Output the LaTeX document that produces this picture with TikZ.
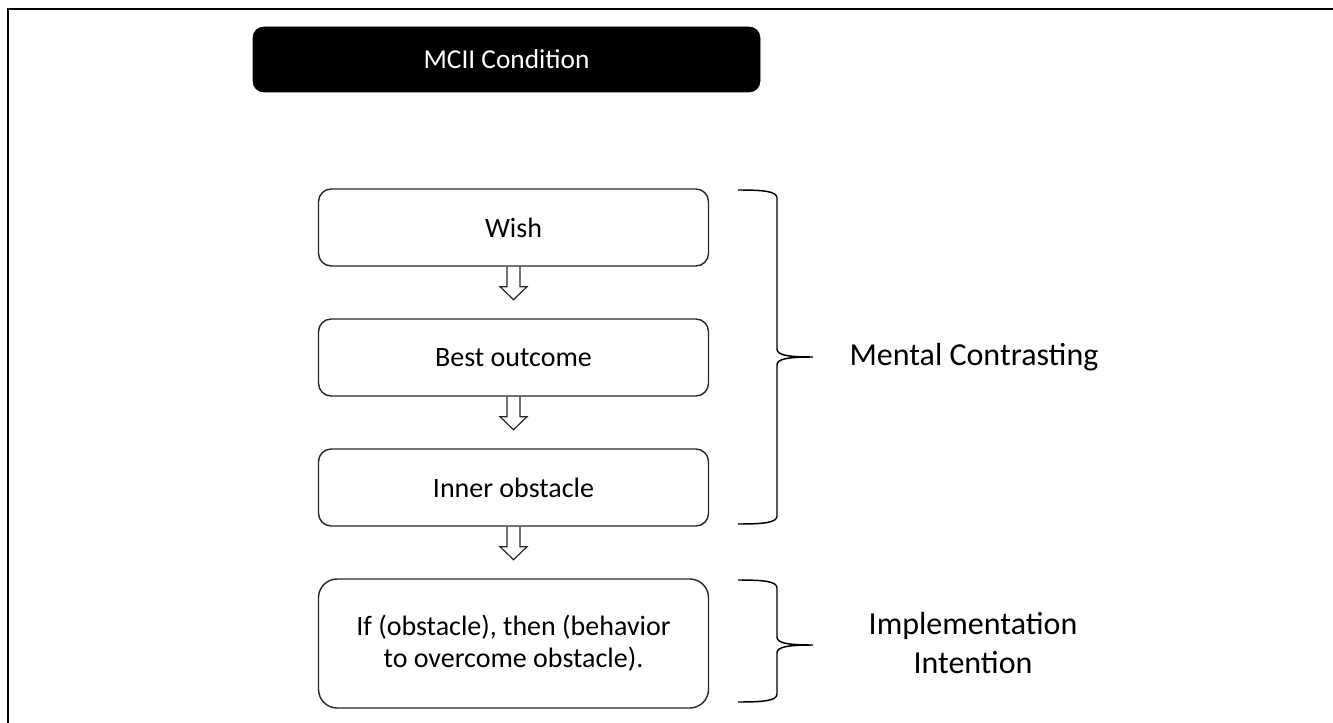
\documentclass[tikz,border=0pt]{standalone}
\usepackage{fontspec}
\setmainfont{Carlito}
\usetikzlibrary{calc}
\newcommand{\blockdown}[1]{%
  \draw[blockarrow] ([shift={(-6.5,0)}]#1.south) -- ([shift={(-6.5,20)}]#1.south) -- ([shift={(-13.5,20)}]#1.south) -- ([shift={(0,33)}]#1.south) -- ([shift={(13.5,20)}]#1.south) -- ([shift={(6.5,20)}]#1.south) -- ([shift={(6.5,0)}]#1.south);}
\newcommand{\rightbracket}[3]{%
  \draw[bracestyle] (738,#1) .. controls (762,#1) and (777,#1+1) .. (777,#1+8) -- (777,#2-8) .. controls (777,#2-2) and (787,#2) .. (813,#2) .. controls (787,#2) and (777,#2+2) .. (777,#2+8) -- (777,#3-8) .. controls (777,#3-1) and (762,#3) .. (738,#3);}
\begin{document}
\begin{tikzpicture}[x=0.75pt,y=-0.75pt,
  box/.style={draw=black!85, line width=1.05pt, rounded corners=9.5pt, minimum width=292.5pt, minimum height=57.75pt, inner sep=0pt, align=center, font=\fontsize{21}{24}\selectfont},
  header/.style={fill=black, draw=black, rounded corners=8pt, minimum width=380.25pt, minimum height=48.75pt, inner sep=0pt, text=white, font=\fontsize{20.5}{24}\selectfont},
  sidelabel/.style={align=center, inner sep=0pt, font=\fontsize{24}{29}\selectfont},
  blockarrow/.style={draw=black!85, line width=0.9pt, line join=miter},
  bracestyle/.style={draw=black, line width=1.1pt},
  frameline/.style={draw=black, line width=1.3pt}]
\useasboundingbox (0,0) rectangle (1333,723);
\draw[frameline] (8,723) -- (8,9) -- (1333,9);
\node[header] (hdr) at (506.5,59.5) {MCII Condition};
\node[box] (wish) at (513.5,227.5) {Wish};
\node[box] (best) at (513.5,357.5) {Best outcome};
\node[box] (inner) at (513.5,487.5) {Inner obstacle};
\node[box, minimum height=96.75pt, rounded corners=14pt] (ifthen) at (513.5,643.5) {If (obstacle), then (behavior\\to overcome obstacle).};
\blockdown{wish}
\blockdown{best}
\blockdown{inner}
\rightbracket{190}{357}{524}
\rightbracket{580}{645}{702}
\node[sidelabel] (mc) at (974,357) {Mental Contrasting};
\node[sidelabel] (ii) at (973,643) {Implementation\\Intention};
\end{tikzpicture}
\end{document}
